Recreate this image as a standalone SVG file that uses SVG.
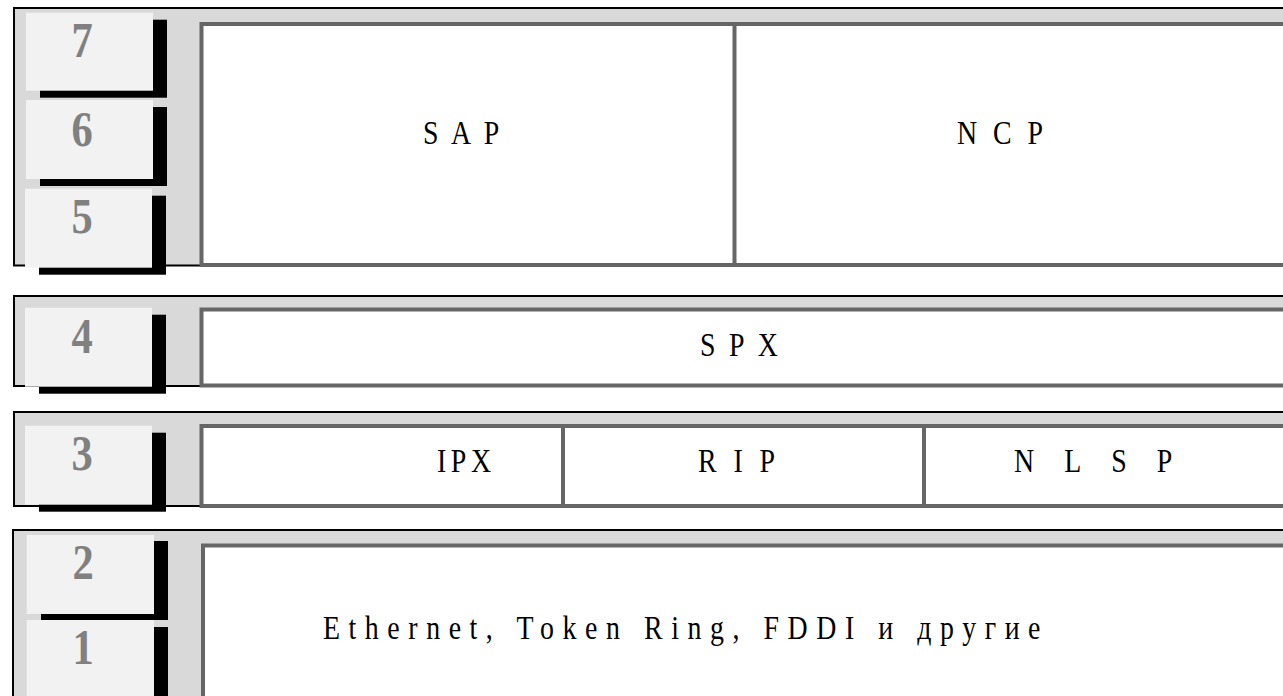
<svg xmlns="http://www.w3.org/2000/svg" width="1283" height="696" viewBox="0 0 1283 696">
<style>
.band{fill:#d9d9d9;stroke:#000;stroke-width:2}
.box{fill:#fff;stroke:#666;stroke-width:4}
.div{stroke:#666;stroke-width:4}
.cell{fill:#f2f2f2}
.shadow{fill:#000}
.num{font-family:"Liberation Serif","Times New Roman",serif;font-weight:bold;font-size:50px;fill:#808080;text-anchor:middle}
.lbl{font-family:"Liberation Serif","Times New Roman",serif;font-size:34px;fill:#000}
</style>
<rect width="1283" height="696" fill="#fff"/>

<g id="band-567">
  <rect class="band" x="14" y="8" width="1300" height="257.5"/>
  <rect class="shadow" x="40" y="19.7" width="127" height="78"/>
  <rect class="cell" x="26" y="12.7" width="127" height="78"/>
  <text class="num" transform="translate(82,57) scale(0.85,1)">7</text>
  <rect class="shadow" x="40" y="107" width="127" height="79"/>
  <rect class="cell" x="26" y="100" width="127" height="79"/>
  <text class="num" transform="translate(82,146) scale(0.85,1)">6</text>
  <rect class="box" x="201.5" y="24" width="1200" height="241"/>
  <line class="div" x1="734.5" y1="24" x2="734.5" y2="265"/>
  <rect class="shadow" x="39" y="195.7" width="127" height="79"/>
  <rect class="cell" x="25" y="188.7" width="127" height="79"/>
  <text class="num" transform="translate(82,233) scale(0.85,1)">5</text>
  <g id="node-sap"><text class="lbl" transform="translate(423,144) scale(0.82,1)" textLength="93" lengthAdjust="spacing">SAP</text></g>
  <g id="node-ncp"><text class="lbl" transform="translate(957,144) scale(0.82,1)" textLength="105" lengthAdjust="spacing">NCP</text></g>
</g>

<g id="band-4">
  <rect class="band" x="14" y="296" width="1300" height="90"/>
  <rect class="box" x="201.5" y="309.5" width="1200" height="76"/>
  <rect class="shadow" x="39" y="314.7" width="127" height="79"/>
  <rect class="cell" x="25" y="307.7" width="127" height="79"/>
  <text class="num" transform="translate(82,353) scale(0.85,1)">4</text>
  <g id="node-spx"><text class="lbl" transform="translate(700,356) scale(0.82,1)" textLength="95" lengthAdjust="spacing">SPX</text></g>
</g>

<g id="band-3">
  <rect class="band" x="14" y="412" width="1300" height="94"/>
  <rect class="box" x="201.5" y="426" width="1200" height="80"/>
  <line class="div" x1="563" y1="426" x2="563" y2="506"/>
  <line class="div" x1="924" y1="426" x2="924" y2="506"/>
  <rect class="shadow" x="39" y="432.7" width="127" height="79"/>
  <rect class="cell" x="25" y="425.7" width="127" height="79"/>
  <text class="num" transform="translate(82,470) scale(0.85,1)">3</text>
  <g id="node-ipx"><text class="lbl" transform="translate(437,472) scale(0.82,1)" textLength="66" lengthAdjust="spacing">IPX</text></g>
  <g id="node-rip"><text class="lbl" transform="translate(698,472) scale(0.82,1)" textLength="94" lengthAdjust="spacing">RIP</text></g>
  <g id="node-nlsp"><text class="lbl" transform="translate(1014,472) scale(0.82,1)" textLength="193" lengthAdjust="spacing">NLSP</text></g>
</g>

<g id="band-12">
  <rect class="band" x="13" y="530" width="1300" height="200" stroke-width="3"/>
  <rect class="box" x="203" y="545.5" width="1200" height="200"/>
  <rect class="shadow" x="41" y="541" width="127" height="79"/>
  <rect class="cell" x="26.7" y="535" width="127.3" height="79"/>
  <text class="num" transform="translate(83,579) scale(0.85,1)">2</text>
  <rect class="shadow" x="41" y="627" width="127" height="90"/>
  <rect class="cell" x="26.7" y="620" width="127.3" height="90"/>
  <text class="num" transform="translate(83,664) scale(0.85,1)">1</text>
  <g id="node-l2"><text class="lbl" transform="translate(323,639) scale(0.82,1)" textLength="875" lengthAdjust="spacing">Ethernet, Token Ring, FDDI и другие</text></g>
</g>

<g id="connectors"></g>
</svg>
